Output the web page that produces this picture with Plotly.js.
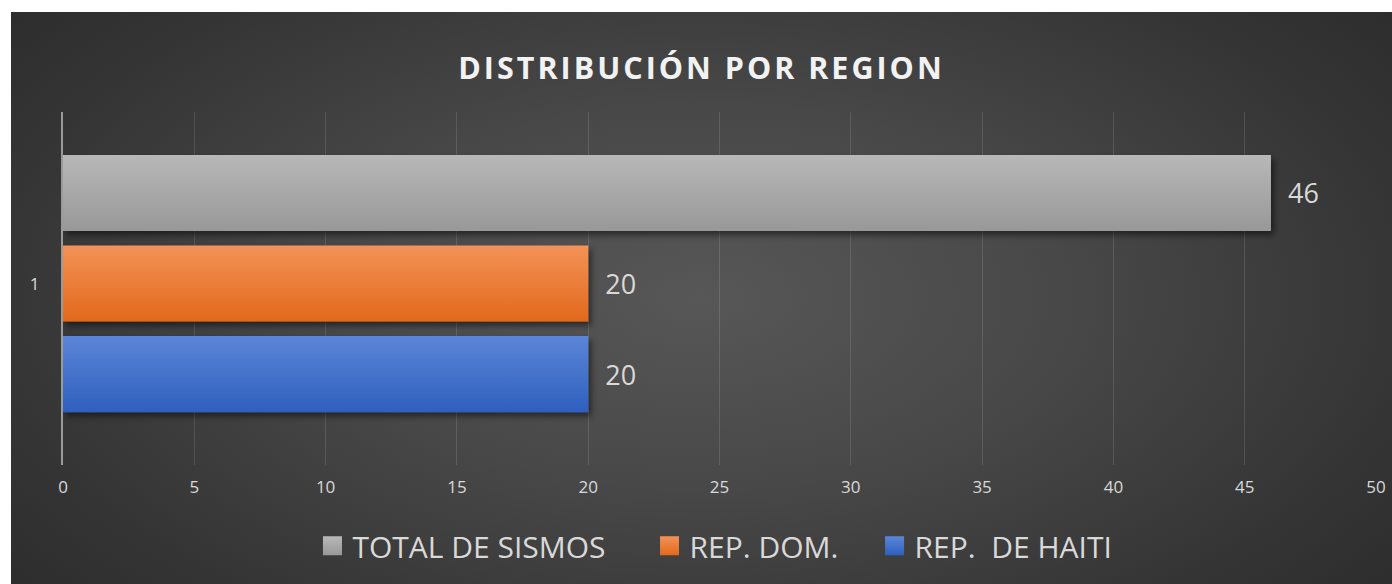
<!DOCTYPE html>
<html>
<head>
<meta charset="utf-8">
<script src="https://cdn.plot.ly/plotly-3.0.1.min.js"></script>
<style>
html,body{margin:0;padding:0;background:#ffffff;}
#chart{position:absolute;left:11px;top:12px;width:1381px;height:572px;
background:radial-gradient(ellipse 75% 95% at 50% 50%, #575757 0%, #484848 35%, #343434 70%, #272727 100%);}
.gtitle{letter-spacing:3px;}
</style>
</head>
<body>
<div id="chart"></div>
<script>
const categories = ["1"];
const seriesNames = ["REP.  DE HAITI", "REP. DOM.", "TOTAL DE SISMOS"];
const haiti = [20];
const repDom = [20];
const totalSismos = [46];
const xTickVals = [0, 5, 10, 15, 20, 25, 30, 35, 40, 45, 50];

const colors = ["#4472c4", "#ed7d31", "#a5a5a5"];
const values = [haiti, repDom, totalSismos];
// extra trailing spaces widen the gap between legend entries
const legendPad = ["", "\u00a0\u00a0\u00a0\u00a0", "\u00a0\u00a0\u00a0\u00a0\u00a0"];

const traces = values.map((v, i) => ({
  type: "bar",
  orientation: "h",
  name: seriesNames[i] + legendPad[i],
  y: categories,
  x: v,
  texttemplate: "\u00a0\u00a0%{x}",
  textposition: "outside",
  cliponaxis: false,
  textfont: {family: "Open Sans, sans-serif", size: 27, color: "#d9d9d9"},
  marker: {color: colors[i], line: {width: 0}},
  hoverinfo: "none"
}));

const layout = {
  width: 1381, height: 572,
  paper_bgcolor: "rgba(0,0,0,0)",
  plot_bgcolor: "rgba(0,0,0,0)",
  margin: {l: 52, r: 16, t: 100, b: 119},
  barmode: "group",
  bargap: 0.23,
  bargroupgap: 0.16,
  showlegend: true,
  title: {
    text: "<b>DISTRIBUCIÓN POR REGION</b>",
    font: {family: "Open Sans, sans-serif", size: 30.5, color: "#f2f2f2"},
    x: 0.5, xanchor: "center", xref: "container",
    y: 0.902, yanchor: "middle", yref: "container"
  },
  xaxis: {
    range: [0, 50],
    tickvals: xTickVals,
    ticktext: xTickVals.map(String),
    showgrid: true,
    gridcolor: "rgba(255,255,255,0.12)",
    gridwidth: 1,
    zeroline: false,
    showline: false,
    ticks: "outside",
    ticklen: 7,
    tickcolor: "rgba(0,0,0,0)",
    tickfont: {family: "Open Sans, sans-serif", size: 17, color: "#d9d9d9"},
    fixedrange: true
  },
  yaxis: {
    type: "category",
    range: [-0.514, 0.486],
    showgrid: false,
    zeroline: false,
    showline: true,
    linecolor: "#9a9a9a",
    linewidth: 2,
    ticks: "outside",
    ticklen: 18,
    tickcolor: "rgba(0,0,0,0)",
    tickfont: {family: "Open Sans, sans-serif", size: 17, color: "#d9d9d9"},
    fixedrange: true
  },
  legend: {
    orientation: "h",
    traceorder: "reversed",
    x: 0.19, xanchor: "left",
    y: -0.229, yanchor: "middle",
    font: {family: "Open Sans, sans-serif", size: 30, color: "#d9d9d9"},
    itemwidth: 30,
    bgcolor: "rgba(0,0,0,0)"
  }
};

Plotly.newPlot("chart", traces, layout, {displayModeBar: false, staticPlot: true}).then(gd => {
  const svg = gd.querySelector("svg.main-svg");
  const ns = "http://www.w3.org/2000/svg";
  let defs = svg.querySelector("defs");
  if (!defs) { defs = document.createElementNS(ns, "defs"); svg.insertBefore(defs, svg.firstChild); }
  const grads = [["#5b86d8", "#2f5fbe"], ["#f39257", "#e2691c"], ["#b8b8b8", "#989898"]];
  grads.forEach((g, i) => {
    const lg = document.createElementNS(ns, "linearGradient");
    lg.setAttribute("id", "barg" + i);
    lg.setAttribute("x1", "0"); lg.setAttribute("y1", "0");
    lg.setAttribute("x2", "0"); lg.setAttribute("y2", "1");
    [[0, g[0]], [1, g[1]]].forEach(s => {
      const st = document.createElementNS(ns, "stop");
      st.setAttribute("offset", s[0]);
      st.setAttribute("stop-color", s[1]);
      lg.appendChild(st);
    });
    defs.appendChild(lg);
  });
  const flt = document.createElementNS(ns, "filter");
  flt.setAttribute("id", "barshadow");
  flt.setAttribute("x", "-5%"); flt.setAttribute("y", "-20%");
  flt.setAttribute("width", "115%"); flt.setAttribute("height", "150%");
  flt.innerHTML = '<feDropShadow dx="3" dy="4" stdDeviation="3" flood-color="#000" flood-opacity="0.5"/>';
  defs.appendChild(flt);
  gd.querySelectorAll(".barlayer .trace").forEach((tr, i) => {
    tr.querySelectorAll("path").forEach(p => {
      p.style.fill = "url(#barg" + i + ")";
      p.setAttribute("filter", "url(#barshadow)");
    });
  });
  gd.querySelectorAll(".legend .traces").forEach(t => {
    const d = t.__data__;
    const idx = d && d[0] && d[0].trace ? d[0].trace.index : -1;
    t.querySelectorAll(".legendpoints path").forEach(p => {
      p.setAttribute("d", "M9.5,9.5H-9.5V-9.5H9.5Z");
      if (idx >= 0) p.style.fill = "url(#barg" + idx + ")";
    });
  });
});
</script>
</body>
</html>
